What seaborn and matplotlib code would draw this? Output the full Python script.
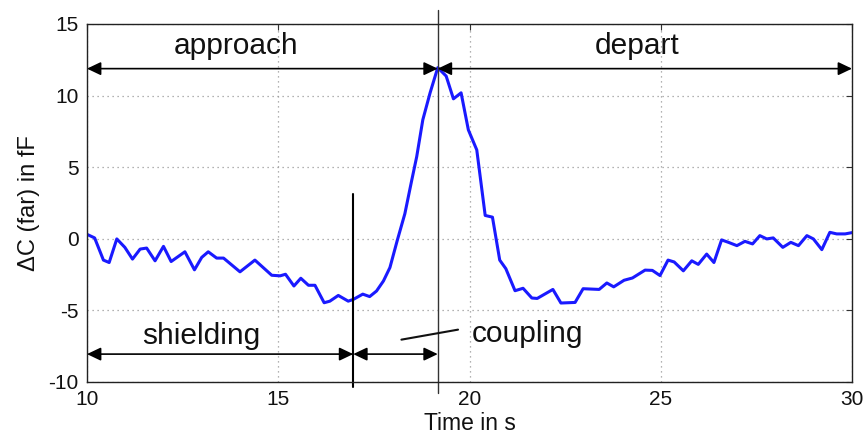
import matplotlib
matplotlib.use("Agg")
import matplotlib.pyplot as plt
import seaborn as sns
import pandas as pd

# ---- data ----
time_s = [10.0, 10.2, 10.43, 10.58, 10.78, 10.99, 11.19, 11.39, 11.56, 11.78, 12.0, 12.2,
          12.56, 12.81, 13.0, 13.17, 13.39, 13.57, 14.0, 14.39, 14.83, 15.05, 15.19, 15.41,
          15.59, 15.79, 15.96, 16.2, 16.35, 16.57, 16.83, 16.96, 17.21, 17.39, 17.57, 17.75,
          17.92, 18.11, 18.31, 18.49, 18.62, 18.78, 18.97, 19.17, 19.39, 19.58, 19.78, 19.97,
          20.19, 20.41, 20.6, 20.79, 20.95, 21.19, 21.4, 21.63, 21.77, 22.18, 22.39, 22.76,
          22.97, 23.39, 23.59, 23.77, 24.04, 24.26, 24.59, 24.78, 24.98, 25.19, 25.35, 25.59,
          25.81, 25.98, 26.2, 26.39, 26.59, 26.77, 26.99, 27.2, 27.4, 27.59, 27.77, 27.94,
          28.19, 28.4, 28.6, 28.82, 28.99, 29.21, 29.42, 29.6, 29.82, 30.0]
delta_c = [0.3, 0.05, -1.5, -1.67, -0.02, -0.61, -1.43, -0.73, -0.66, -1.55, -0.54, -1.6,
           -0.92, -2.18, -1.31, -0.92, -1.36, -1.36, -2.32, -1.5, -2.56, -2.6, -2.49, -3.31,
           -2.77, -3.26, -3.26, -4.48, -4.37, -3.97, -4.37, -4.25, -3.88, -4.05, -3.66, -2.96,
           -2.02, -0.14, 1.74, 4.08, 5.73, 8.31, 10.19, 11.95, 11.36, 9.77, 10.19, 7.6,
           6.2, 1.62, 1.5, -1.5, -2.1, -3.64, -3.47, -4.15, -4.18, -3.55, -4.5, -4.46,
           -3.5, -3.55, -3.1, -3.37, -2.91, -2.75, -2.2, -2.22, -2.58, -1.5, -1.63, -2.25,
           -1.55, -1.8, -1.08, -1.67, -0.09, -0.26, -0.49, -0.19, -0.37, 0.21, -0.02, 0.05,
           -0.61, -0.26, -0.49, 0.21, -0.02, -0.77, 0.44, 0.33, 0.33, 0.42]

x_ticks = [10, 15, 20, 25, 30]
y_ticks = [-10, -5, 0, 5, 10, 15]
phase_labels = ["approach", "depart", "shielding", "coupling"]
t_start, t_shield_end, t_peak, t_end = 10.0, 16.96, 19.17, 30.0

df = pd.DataFrame({"t": time_s, "dc": delta_c})

sns.set_style("white")
plt.rcParams["font.family"] = ["Liberation Sans", "DejaVu Sans"]
plt.rcParams["axes.unicode_minus"] = False

fig = plt.figure(figsize=(8.68, 4.37), dpi=100)
ax = fig.add_axes([0.1002, 0.1265, 0.8814, 0.8186])

sns.lineplot(data=df, x="t", y="dc", ax=ax, color="#1a1aff", linewidth=2.2,
             estimator=None, sort=False)

ax.set_xlim(10, 30)
ax.set_ylim(-10, 15)
ax.set_xticks(x_ticks)
ax.set_yticks(y_ticks)
ax.tick_params(direction="in", length=4, labelsize=15, top=True, right=True,
               color="#333333", pad=6, labelcolor="#111111")
ax.grid(True, linestyle=(0, (1, 3)), color="#999999", linewidth=0.9)
for s in ax.spines.values():
    s.set_color("#222222")
    s.set_linewidth(1.0)

ax.set_xlabel("Time in s", fontsize=16.5, labelpad=2, color="#111111")
ax.set_ylabel("ΔC (far) in fF", fontsize=17, labelpad=6, color="#111111")

# vertical marker lines
ax.plot([t_peak, t_peak], [16.0, -10.8], color="#333333", lw=1.0, clip_on=False)
ax.plot([t_shield_end, t_shield_end], [3.15, -10.35], color="black", lw=1.5, clip_on=False)

arrow_kw = dict(arrowstyle="<|-|>,head_length=0.42,head_width=0.2", color="black",
                lw=1.2, shrinkA=0, shrinkB=0, mutation_scale=20)
y_top, y_bot = 11.88, -8.07
for (a, b) in [(t_start, t_peak), (t_peak, t_end)]:
    ax.annotate("", xy=(b, y_top), xytext=(a, y_top), arrowprops=arrow_kw)
for (a, b) in [(t_start, t_shield_end), (t_shield_end, t_peak)]:
    ax.annotate("", xy=(b, y_bot), xytext=(a, y_bot), arrowprops=arrow_kw)

txt_kw = dict(fontsize=21.5, ha="center", va="center", color="#111111")
ax.text(13.9, 13.45, phase_labels[0], **txt_kw)
ax.text(24.37, 13.45, phase_labels[1], **txt_kw)
ax.text(13.0, -6.8, phase_labels[2], **txt_kw)
ax.text(21.52, -6.7, phase_labels[3], **txt_kw)
ax.plot([18.22, 19.70], [-7.06, -6.36], color="#111111", lw=1.5)

fig.savefig("out.png", dpi=100)
